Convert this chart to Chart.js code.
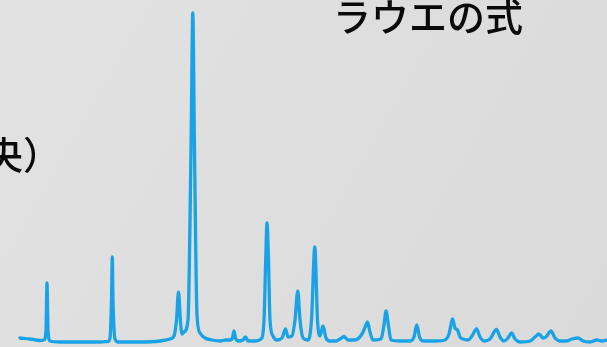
<!DOCTYPE html>
<html>
<head>
<meta charset="utf-8">
<script src="https://cdn.jsdelivr.net/npm/chart.js@4"></script>
<style>
  html, body { margin: 0; padding: 0; background: #dedede; }
  canvas { display: block; }
</style>
</head>
<body>
<canvas id="xrd" width="607" height="347"></canvas>
<script>
// Diffraction profile: scan position and measured intensity (arbitrary units)
const scanPos = [
  20, 30, 40,
  44, 46, 47, 48, 50,
  60, 80, 100, 108,
  110, 111.5, 112.3, 113, 115, 118,
  140, 160, 170, 174,
  176.5, 178.5, 180.5, 182, 184,
  188, 191, 192.8, 194.5, 197, 200, 205, 212,
  220, 226, 230,
  232.5, 234, 235.5, 238, 243,
  245.5, 248, 255, 261,
  264, 265.7, 267, 268.5, 270, 273, 277, 282,
  285.5, 288, 292,
  295, 297.8, 300, 303, 308, 311.5,
  314.8, 317.5, 320,
  323, 326, 330, 336,
  340, 344, 348, 355, 362,
  366, 367.5, 370, 373, 381, 384,
  386, 388.5, 391, 400, 410, 414,
  416.8, 419.5, 423, 435, 445, 449,
  452.5, 455, 457.5, 460, 463, 468, 472,
  476.5, 480, 484, 490,
  496.5, 500, 504, 508,
  511.5, 515, 520, 530, 535,
  539, 543, 546,
  551, 555, 560, 566, 572,
  578, 583, 590, 597, 602, 607
];
const intensity = [
  9, 8, 6.5,
  7, 17, 64, 17, 6,
  5, 5, 5, 5.5,
  9, 47, 90, 47, 8, 5,
  5, 6, 8, 11,
  27, 55, 25, 13, 15,
  27, 197, 334, 197, 32, 14, 9, 7,
  6, 7, 7,
  9, 16, 9, 6, 7,
  10, 6, 6, 8,
  27, 87, 124, 87, 27, 11, 7, 9,
  18, 10, 11,
  27, 56, 27, 9, 7, 27,
  100, 27, 11,
  21, 9, 6, 6,
  8, 10.5, 7, 7, 13,
  22, 25, 15, 7, 8, 22,
  36, 21, 7, 6, 6, 10,
  22, 10, 6, 6, 7, 13,
  28, 19, 17, 10, 8, 7, 11,
  18, 10, 6, 8,
  17.5, 10, 6, 9,
  14, 8, 5, 6, 10,
  13, 9, 10,
  16, 9, 6, 6, 8,
  9, 6, 5, 7, 6, 7
];

// Slide captions
const titleText = 'ラウエの式';
const sideText = '央）';

const points = scanPos.map((x, i) => ({ x: x, y: intensity[i] }));

const slideBackground = {
  id: 'slideBackground',
  beforeDraw(chart) {
    const { ctx, width, height } = chart;
    const g = ctx.createLinearGradient(0, 0, width, height);
    g.addColorStop(0, '#e2e2e2');
    g.addColorStop(1, '#dadada');
    ctx.save();
    ctx.fillStyle = g;
    ctx.fillRect(0, 0, width, height);
    ctx.restore();
  }
};

const captions = {
  id: 'captions',
  afterDraw(chart) {
    const { ctx } = chart;
    ctx.save();
    ctx.fillStyle = '#0a0a0a';
    ctx.font = '500 38px "Noto Sans CJK JP"';
    ctx.textBaseline = 'middle';
    ctx.textAlign = 'left';
    ctx.fillText(titleText, 333, 17);
    ctx.fillText(sideText, -15, 155);
    ctx.restore();
  }
};

new Chart(document.getElementById('xrd'), {
  type: 'line',
  data: {
    datasets: [{
      data: points,
      borderColor: '#19a2e6',
      borderWidth: 3.3,
      borderCapStyle: 'round',
      borderJoinStyle: 'round',
      pointRadius: 0,
      fill: false,
      cubicInterpolationMode: 'monotone'
    }]
  },
  options: {
    responsive: false,
    animation: false,
    devicePixelRatio: 1,
    layout: { padding: 0 },
    plugins: { legend: { display: false }, tooltip: { enabled: false }, title: { display: false } },
    scales: {
      x: { type: 'linear', min: 0, max: 607, display: false },
      y: { min: 0, max: 347, display: false }
    }
  },
  plugins: [slideBackground, captions]
});
</script>
</body>
</html>
